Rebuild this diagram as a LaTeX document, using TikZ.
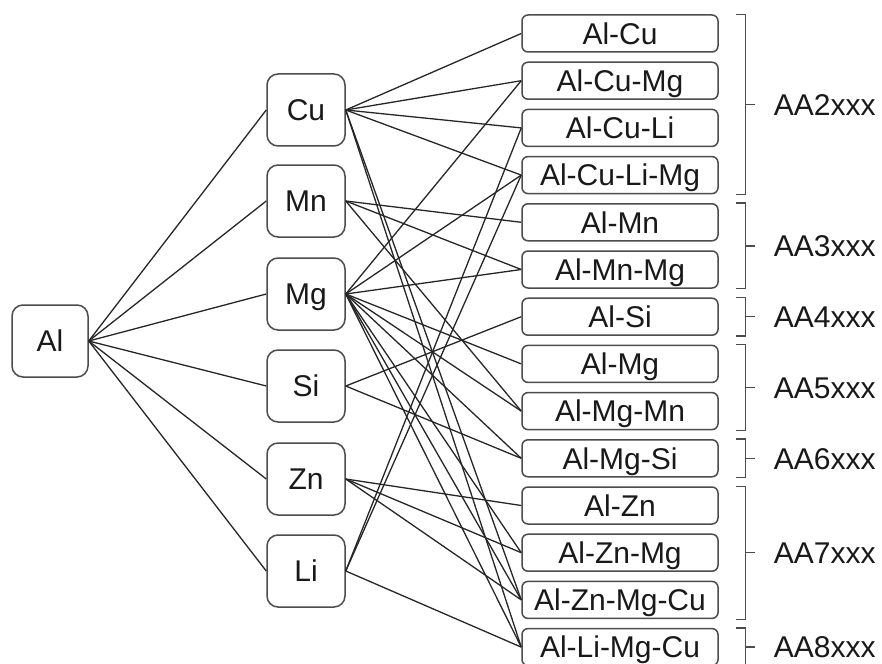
\documentclass[tikz,border=0pt]{standalone}
\usepackage{fontspec}
\setmainfont{Liberation Sans}
\usetikzlibrary{calc}
\begin{document}
\begin{tikzpicture}[x=1pt,y=-1pt,
  txt/.style={font=\fontsize{30}{36}\selectfont, text height=21.5pt, text depth=0pt, inner sep=0pt, text=black!90},
  elem/.style={txt, draw=black!70, line width=1.5pt, rounded corners=11pt, minimum width=78pt, minimum height=72pt, fill=white},
  alloy/.style={txt, draw=black!70, line width=1.5pt, rounded corners=6pt, minimum width=196pt, minimum height=37pt, fill=white},
  conn/.style={draw=black!85, line width=1.3pt},
  brk/.style={draw=black!70, line width=1.3pt},
  grp/.style={txt, anchor=west}]
\useasboundingbox (0,0) rectangle (882,663);

\node[elem, minimum width=76pt] (Al) at (50,341) {Al};
\node[elem] (Cu) at (306,110) {Cu};
\node[elem] (Mn) at (306,201) {Mn};
\node[elem] (Mg) at (306,294) {Mg};
\node[elem] (Si) at (306,386) {Si};
\node[elem] (Zn) at (306,479) {Zn};
\node[elem] (Li) at (306,571) {Li};

\foreach \i/\t in {0/Al-Cu,1/Al-Cu-Mg,2/Al-Cu-Li,3/Al-Cu-Li-Mg,4/Al-Mn,5/Al-Mn-Mg,6/Al-Si,7/Al-Mg,8/Al-Mg-Mn,9/Al-Mg-Si,10/Al-Zn,11/Al-Zn-Mg,12/Al-Zn-Mg-Cu,13/Al-Li-Mg-Cu}
  \node[alloy] (a\i) at (620,{33.5+47.2*\i}) {\t};

\foreach \e in {Cu,Mn,Mg,Si,Zn,Li}
  \draw[conn] (Al.east) -- (\e.west);

\foreach \e/\list in {Cu/{0,1,2,3,12,13}, Mn/{4,5,8}, Mg/{1,3,5,7,8,9,11,12,13}, Si/{6,9}, Zn/{10,11,12}, Li/{2,3,13}}
  \foreach \k in \list
    \draw[conn] (\e.east) -- (a\k.west);

\newcommand\grpbrace[4]{%
  \draw[brk] ([xshift=17pt]#1.north east) -- ++(10,0) |- ([xshift=17pt]#2.south east);
  \coordinate (m#3) at ($($(#1.north east)!0.5!(#2.south east)$)+(27,0)$);
  \draw[brk] (m#3) -- ++(9,0);
  \node[grp] (#3) at ($(m#3)+(28,0)$) {#4};}

\grpbrace{a0}{a3}{g2}{AA2xxx}
\grpbrace{a4}{a5}{g3}{AA3xxx}
\grpbrace{a6}{a6}{g4}{AA4xxx}
\grpbrace{a7}{a8}{g5}{AA5xxx}
\grpbrace{a9}{a9}{g6}{AA6xxx}
\grpbrace{a10}{a12}{g7}{AA7xxx}
\grpbrace{a13}{a13}{g8}{AA8xxx}
\end{tikzpicture}
\end{document}
